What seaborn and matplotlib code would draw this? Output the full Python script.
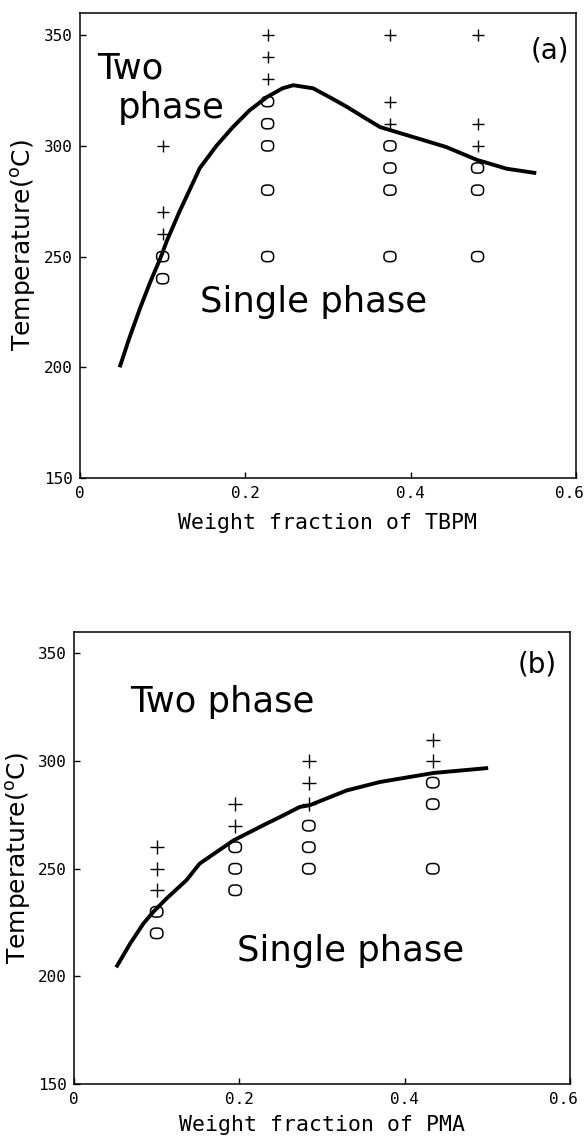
import numpy as np
import pandas as pd
import matplotlib
matplotlib.use("Agg")
import matplotlib.pyplot as plt
import matplotlib.transforms as mtransforms
from matplotlib.path import Path
import seaborn as sns

# ---------------- data: panel (a) TBPM ----------------
a_plus_x = [0.100, 0.100, 0.100,
            0.227, 0.227, 0.227,
            0.375, 0.375, 0.375,
            0.481, 0.481, 0.481]
a_plus_T = [300, 270, 260,
            350, 340, 330,
            350, 320, 310,
            350, 310, 300]
a_circ_x = [0.100, 0.100,
            0.227, 0.227, 0.227, 0.227, 0.227,
            0.375, 0.375, 0.375, 0.375,
            0.481, 0.481, 0.481]
a_circ_T = [250, 240,
            320, 310, 300, 280, 250,
            300, 290, 280, 250,
            290, 280, 250]
a_curve_x = [0.048, 0.060, 0.073, 0.085, 0.097, 0.105, 0.120, 0.145, 0.165,
             0.185, 0.205, 0.226, 0.245, 0.258, 0.282, 0.302, 0.323, 0.343,
             0.363, 0.403, 0.443, 0.480, 0.516, 0.552]
a_curve_T = [200.0, 213.5, 227.0, 238.5, 249.0, 257.0, 270.0, 290.0, 300.0,
             308.5, 316.0, 322.0, 326.0, 327.4, 326.0, 322.0, 317.6, 313.0,
             308.5, 304.0, 299.5, 293.7, 289.7, 287.7]

# ---------------- data: panel (b) PMA ----------------
b_plus_x = [0.100, 0.100, 0.100,
            0.195, 0.195,
            0.284, 0.284, 0.284,
            0.434, 0.434]
b_plus_T = [260, 250, 240,
            280, 270,
            300, 290, 280,
            310, 300]
b_circ_x = [0.100, 0.100,
            0.195, 0.195, 0.195,
            0.284, 0.284, 0.284,
            0.434, 0.434, 0.434]
b_circ_T = [230, 220,
            260, 250, 240,
            270, 260, 250,
            290, 280, 250]
b_curve_x = [0.051, 0.068, 0.084, 0.096, 0.112, 0.136, 0.152, 0.193, 0.233,
             0.249, 0.273, 0.285, 0.330, 0.370, 0.435, 0.501]
b_curve_T = [204.2, 215.3, 224.6, 230.0, 236.2, 244.7, 252.4, 263.2, 271.0,
             274.0, 278.7, 279.5, 286.4, 290.3, 294.5, 296.8]

x_ticks = [0, 0.2, 0.4, 0.6]
x_tick_labels = ["0", "0.2", "0.4", "0.6"]
y_ticks = [150, 200, 250, 300, 350]
y_tick_labels = ["150", "200", "250", "300", "350"]

# ---------------- style ----------------
sns.set_theme(style="ticks")
plt.rcParams["font.family"] = ["DejaVu Sans"]
plt.rcParams["mathtext.fontset"] = "dejavusans"

# slightly squarish "o" marker (like a plotter letter o)
t = np.linspace(0, 2 * np.pi, 72)
ex = np.sign(np.cos(t)) * np.abs(np.cos(t)) ** 0.75
ey = 0.85 * np.sign(np.sin(t)) * np.abs(np.sin(t)) ** 0.75
o_marker = Path(np.column_stack([ex, ey]), closed=True)

fig = plt.figure(figsize=(5.88, 11.43), dpi=100)
ax_a = fig.add_axes([0.136, 0.5818, 0.8435, 0.4068])
ax_b = fig.add_axes([0.1259, 0.0516, 0.8435, 0.3955])

mono = "DejaVu Sans Mono"


def style_axes(ax, xlabel, label_y, ylab_x):
    ax.set_xlim(0, 0.6)
    ax.set_ylim(150, 360)
    ax.set_xticks(x_ticks)
    ax.set_xticklabels(x_tick_labels, fontfamily=mono, fontsize=11.5)
    ax.set_yticks(y_ticks)
    ax.set_yticklabels(y_tick_labels, fontfamily=mono, fontsize=11.5)
    ax.tick_params(direction="in", length=4, width=1.0, color="black",
                   labelcolor="black")
    ax.tick_params(axis="x", pad=6)
    ax.tick_params(axis="y", pad=5)
    # nudge the last x tick label inward so it stays on the canvas
    last = ax.get_xticklabels()[-1]
    last.set_transform(last.get_transform() +
                       mtransforms.ScaledTranslation(-7 / 100, 0,
                                                     fig.dpi_scale_trans))
    for s in ax.spines.values():
        s.set_visible(True)
        s.set_linewidth(1.1)
        s.set_color("black")
    ax.set_xlabel(xlabel, fontfamily=mono, fontsize=15.5, color="black")
    ax.xaxis.set_label_coords(0.5, label_y)
    ax.set_ylabel(r"Temperature($^{\mathrm{o}}$C)", fontsize=18, color="black")
    ax.yaxis.set_label_coords(ylab_x, 0.5)
    ax.set_facecolor("white")


def draw(ax, px, pT, cx, cT, lx, lT, psize, csize):
    sns.lineplot(x=lx, y=lT, sort=False, estimator=None, color="black",
                 linewidth=2.8, ax=ax, legend=False,
                 solid_joinstyle="round", solid_capstyle="butt")
    sns.scatterplot(x=px, y=pT, marker="+", s=psize, color="black",
                    linewidth=1.0, ax=ax, legend=False, zorder=3)
    sns.scatterplot(x=cx, y=cT, marker=o_marker, s=csize, facecolor="none",
                    edgecolor="black", linewidth=1.1, ax=ax, legend=False,
                    zorder=3)


draw(ax_a, a_plus_x, a_plus_T, a_circ_x, a_circ_T, a_curve_x, a_curve_T, 75, 75)
draw(ax_b, b_plus_x, b_plus_T, b_circ_x, b_circ_T, b_curve_x, b_curve_T, 95, 80)

style_axes(ax_a, "Weight fraction of TBPM", -0.075, -0.085)
style_axes(ax_b, "Weight fraction of PMA", -0.068, -0.083)

txt = dict(color="black", fontsize=25.5)
ax_a.text(0.034, 0.860, "Two", transform=ax_a.transAxes, ha="left",
          va="baseline", **txt)
ax_a.text(0.077, 0.774, "phase", transform=ax_a.transAxes, ha="left",
          va="baseline", **txt)
ax_a.text(0.242, 0.357, "Single phase", transform=ax_a.transAxes, ha="left",
          va="baseline", **txt)
ax_a.text(0.947, 0.920, "(a)", transform=ax_a.transAxes, ha="center",
          va="center", color="black", fontsize=20)

ax_b.text(0.113, 0.823, "Two phase", transform=ax_b.transAxes, ha="left",
          va="baseline", **txt)
ax_b.text(0.329, 0.272, "Single phase", transform=ax_b.transAxes, ha="left",
          va="baseline", **txt)
ax_b.text(0.934, 0.927, "(b)", transform=ax_b.transAxes, ha="center",
          va="center", color="black", fontsize=20)

fig.savefig("out.png", dpi=100, facecolor="white")
